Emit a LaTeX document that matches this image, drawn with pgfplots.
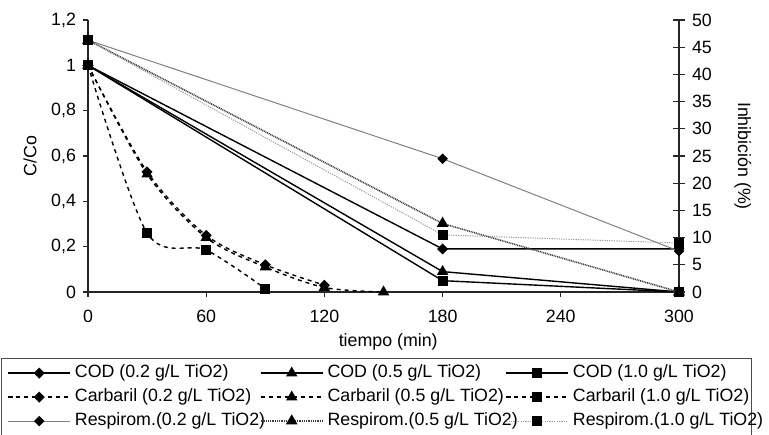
\documentclass[border=0pt]{standalone}
\usepackage{pgfplots}
\pgfplotsset{compat=1.18}
\usepackage{fontspec}
\setmainfont{Liberation Sans}

\begin{document}
\begin{tikzpicture}[font=\fontsize{8.9}{10.6}\selectfont]
\pgfplotsset{
  every axis/.append style={
    scale only axis, width=295.5pt, height=136pt,
    xmin=0, xmax=300,
    /pgf/number format/assume math mode=true,
    axis line style={black!85, line width=0.6pt},
    tick style={black!85, line width=0.6pt},
  },
  dia/.style={mark=square*, mark size=1.6pt, mark options={solid, rotate=45, draw=black, fill=black}},
  tri/.style={mark=triangle*, mark size=2.6pt, mark options={solid, draw=black, fill=black}},
  sq/.style={mark=square*, mark size=2.2pt, mark options={solid, draw=black, fill=black}},
  cod/.style={black, line width=0.7pt, solid},
  carb/.style={black, line width=0.7pt, dash pattern=on 2pt off 2pt, smooth},
  resA/.style={black!50, line width=0.5pt, solid},
  resB/.style={black!75, line width=0.8pt, dash pattern=on 0.5pt off 0.4pt},
  resC/.style={black!40, line width=0.5pt, dash pattern=on 0.6pt off 0.6pt},
}
\begin{axis}[
  axis x line*=bottom, axis y line*=left,
  ymin=0, ymax=1.2,
  xtick={0,60,120,180,240,300},
  ytick={0,0.2,0.4,0.6,0.8,1,1.2},
  yticklabels={0,{0,2},{0,4},{0,6},{0,8},1,{1,2}},
  xticklabel style={yshift=-3pt},
  tick align=outside, major tick length=2.5pt,
  xlabel={tiempo (min)}, ylabel={C/Co},
  xlabel style={at={(axis description cs:0.508,-0.184)}, anchor=center},
  ylabel style={at={(axis description cs:-0.098,0.5)}, anchor=center},
]
\addplot[cod, dia] coordinates {(0,1) (180,0.19) (300,0.19)};
\addplot[cod, tri] coordinates {(0,1) (180,0.09) (300,0)};
\addplot[cod, sq] coordinates {(0,1) (180,0.05) (300,0)};
\addplot[carb, dia] coordinates {(0,1) (30,0.53) (60,0.25) (90,0.12) (120,0.03)};
\addplot[carb, tri] coordinates {(0,1) (30,0.52) (60,0.24) (90,0.11) (120,0.02) (150,0)};
\addplot[carb, sq] coordinates {(0,1) (30,0.26) (60,0.185) (90,0.015)};
\end{axis}
\begin{axis}[
  axis y line*=right, axis x line=none,
  ymin=0, ymax=50,
  ytick={0,5,10,15,20,25,30,35,40,45,50},
  tick align=center, major tick length=6pt,
  ylabel={Inhibición (\%)},
  ylabel style={at={(axis description cs:1.108,0.5)}, anchor=center, rotate=180},
  legend columns=3,
  legend cell align=left,
  legend image code/.code={\draw[mark repeat=2,mark phase=2,#1] plot coordinates {(0pt,0pt) (15.5pt,0pt) (31pt,0pt)};},
  legend style={at={(axis description cs:-0.1472,-0.2426)}, anchor=north west,
    draw=black!70, line width=0.5pt, inner xsep=3pt, inner ysep=3pt, row sep=3.4pt,
    nodes={inner xsep=2pt, inner ysep=0pt, text height=6.6pt, text depth=2pt},
    /tikz/every even column/.append style={column sep=0pt}},
]
\addlegendimage{cod, dia}
\addlegendentry{\makebox[90.5pt][l]{COD (0.2 g/L TiO2)}}
\addlegendimage{cod, tri}
\addlegendentry{\makebox[87pt][l]{COD (0.5 g/L TiO2)}}
\addlegendimage{cod, sq}
\addlegendentry{\makebox[84.5pt][l]{COD (1.0 g/L TiO2)}}
\addlegendimage{carb, dia}
\addlegendentry{\makebox[90.5pt][l]{Carbaril (0.2 g/L TiO2)}}
\addlegendimage{carb, tri}
\addlegendentry{\makebox[87pt][l]{Carbaril (0.5 g/L TiO2)}}
\addlegendimage{carb, sq}
\addlegendentry{\makebox[84.5pt][l]{Carbaril (1.0 g/L TiO2)}}
\addplot[resA, dia] coordinates {(0,46.3) (180,24.5) (300,7.5)};
\addlegendentry{\makebox[90.5pt][l]{Respirom.(0.2 g/L TiO2)}}
\addplot[resB, tri] coordinates {(0,46.3) (180,12.6) (300,0)};
\addlegendentry{\makebox[87pt][l]{Respirom.(0.5 g/L TiO2)}}
\addplot[resC, sq] coordinates {(0,46.3) (180,10.5) (300,9)};
\addlegendentry{\makebox[84.5pt][l]{Respirom.(1.0 g/L TiO2)}}
\end{axis}
\pgfresetboundingbox
\path (-44pt,-71pt) rectangle (340.5pt,146pt);
\end{tikzpicture}
\end{document}
